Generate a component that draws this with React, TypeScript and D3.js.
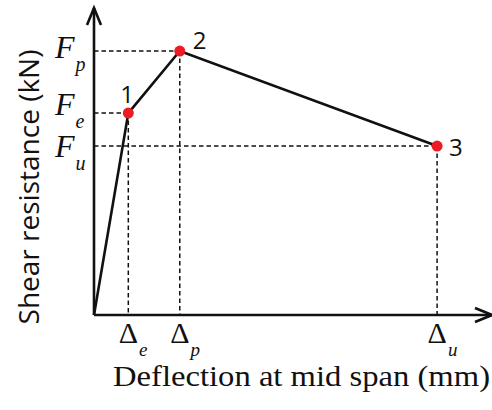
import React, { useEffect, useRef } from 'react';
import * as d3 from 'd3';

// idealised trilinear shear-deflection curve (arbitrary units)
const pointIds = ['0', '1', '2', '3'];
const deflection = [0, 10, 25, 100];
const shear = [0, 76.5, 100, 64];

// characteristic levels marked on the axes
const forceSubs = ['p', 'e', 'u'];
const forceValues = [100, 76.5, 64];
const forceBaseShift = [7, 2, 11];
const deltaSubs = ['e', 'p', 'u'];
const deltaValues = [10, 25, 100];

const W = 492;
const H = 410;

export default function App() {
  const ref = useRef<SVGSVGElement>(null);

  useEffect(() => {
    const svg = d3.select(ref.current);
    svg.selectAll('*').remove();

    const x = d3.scaleLinear().domain([0, 116]).range([94, 492]);
    const y = d3.scaleLinear().domain([0, 116.3]).range([315, 8]);

    const data = pointIds.map((id, i) => ({ id, dx: deflection[i], f: shear[i] }));

    // dashed guide lines
    const guides = svg.append('g')
      .attr('stroke', '#111')
      .attr('stroke-width', 1.5)
      .attr('stroke-dasharray', '4.5,3')
      .attr('fill', 'none');

    data.slice(1).forEach((d) => {
      guides.append('line')
        .attr('x1', x(0)).attr('x2', x(d.dx))
        .attr('y1', y(d.f)).attr('y2', y(d.f));
      guides.append('line')
        .attr('x1', x(d.dx)).attr('x2', x(d.dx))
        .attr('y1', y(d.f)).attr('y2', y(0));
    });

    // axes with open arrow heads
    const axes = svg.append('g')
      .attr('stroke', '#111')
      .attr('stroke-width', 2.6)
      .attr('fill', 'none')
      .attr('stroke-linejoin', 'miter');

    axes.append('path')
      .attr('d', `M${x(0)},${y(0)}V${y(116.3)}`);
    axes.append('path')
      .attr('d', `M${x(0)},${y(0)}H${x(116)}`);
    axes.append('path')
      .attr('d', `M${x(0) - 7},${y(116.3) + 17}L${x(0)},${y(116.3)}L${x(0) + 7},${y(116.3) + 17}`);
    axes.append('path')
      .attr('d', `M${x(116) - 17},${y(0) - 7}L${x(116)},${y(0)}L${x(116) - 17},${y(0) + 7}`);

    // the curve
    const line = d3.line<{ dx: number; f: number }>()
      .x((d) => x(d.dx))
      .y((d) => y(d.f));

    svg.append('path')
      .datum(data)
      .attr('d', line)
      .attr('fill', 'none')
      .attr('stroke', '#111')
      .attr('stroke-width', 2.6);

    // red points
    svg.selectAll('circle.pt')
      .data(data.slice(1))
      .enter()
      .append('circle')
      .attr('class', 'pt')
      .attr('cx', (d) => x(d.dx))
      .attr('cy', (d) => y(d.f))
      .attr('r', 5.5)
      .attr('fill', '#ed1c24');

    // point numbers
    const numOffsets = [[-8, -10], [13, -2], [12, 10]];
    svg.selectAll('text.num')
      .data(data.slice(1))
      .enter()
      .append('text')
      .attr('class', 'num')
      .attr('x', (d, i) => x(d.dx) + numOffsets[i][0])
      .attr('y', (d, i) => y(d.f) + numOffsets[i][1])
      .attr('font-family', 'Open Sans, sans-serif')
      .attr('font-size', 24)
      .attr('fill', '#111')
      .text((d) => d.id);

    // F labels on the y axis
    forceValues.forEach((v, i) => {
      const t = svg.append('text')
        .attr('x', 55)
        .attr('y', y(v) + forceBaseShift[i])
        .attr('font-family', 'Liberation Serif, serif')
        .attr('font-style', 'italic')
        .attr('fill', '#111');
      t.append('tspan').attr('font-size', 32).text('F');
      t.append('tspan').attr('font-size', 20).attr('dx', 1).attr('dy', 12.5).text(forceSubs[i]);
    });

    // delta labels under the x axis
    deltaValues.forEach((v, i) => {
      const t = svg.append('text')
        .attr('x', x(v) - 9.5)
        .attr('y', 343)
        .attr('font-family', 'Liberation Serif, serif')
        .attr('fill', '#111');
      t.append('tspan').attr('font-size', 30).text('\u0394');
      t.append('tspan')
        .attr('font-size', 19)
        .attr('font-style', 'italic')
        .attr('dx', 1)
        .attr('dy', 12.5)
        .text(deltaSubs[i]);
    });

    // axis titles
    svg.append('text')
      .attr('x', 113)
      .attr('y', 386)
      .attr('font-family', 'Liberation Serif, serif')
      .attr('font-size', 29)
      .attr('textLength', 377)
      .attr('lengthAdjust', 'spacingAndGlyphs')
      .attr('fill', '#111')
      .text('Deflection at mid span (mm)');

    svg.append('text')
      .attr('transform', `translate(39,187) rotate(-90)`)
      .attr('text-anchor', 'middle')
      .attr('font-family', 'Open Sans, sans-serif')
      .attr('font-size', 28)
      .attr('fill', '#111')
      .text('Shear resistance (kN)');
  }, []);

  return (
    <svg
      ref={ref}
      width={W}
      height={H}
      style={{ position: 'absolute', left: 0, top: 0, background: '#fff' }}
    />
  );
}
